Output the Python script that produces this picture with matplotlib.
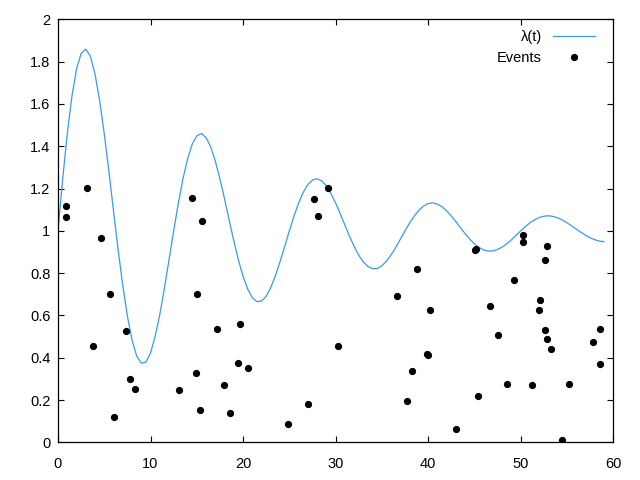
import matplotlib
matplotlib.use('Agg')
import matplotlib.pyplot as plt
import numpy as np

plt.rcParams['font.family'] = ['Liberation Sans', 'DejaVu Sans']

# intensity curve, every 0.5 from t=0 to t=59
lam_y = [1.000, 1.243, 1.458, 1.635, 1.764, 1.839, 1.859, 1.825, 1.741, 1.615,
         1.458, 1.280, 1.093, 0.909, 0.741, 0.596, 0.484, 0.408, 0.374, 0.379,
         0.423, 0.501, 0.605, 0.729, 0.864,
         1.000, 1.130, 1.245, 1.340, 1.409, 1.449, 1.460, 1.441, 1.397, 1.329,
         1.245, 1.150, 1.050, 0.952, 0.861, 0.784, 0.724, 0.683, 0.665, 0.668,
         0.691, 0.733, 0.789, 0.855, 0.927,
         1.000, 1.070, 1.131, 1.182, 1.219, 1.240, 1.246, 1.236, 1.212, 1.176,
         1.131, 1.080, 1.027, 0.974, 0.926, 0.884, 0.852, 0.831, 0.821, 0.822,
         0.835, 0.857, 0.887, 0.922, 0.961,
         1.000, 1.037, 1.070, 1.097, 1.117, 1.129, 1.132, 1.126, 1.114, 1.094,
         1.070, 1.043, 1.014, 0.986, 0.960, 0.938, 0.921, 0.909, 0.904, 0.905,
         0.912, 0.923, 0.939, 0.958, 0.979,
         1.000, 1.020, 1.038, 1.052, 1.063, 1.069, 1.071, 1.068, 1.061, 1.051,
         1.038, 1.023, 1.008, 0.993, 0.979, 0.967, 0.958, 0.951, 0.949]
lam_t = np.linspace(0, 59, len(lam_y))

# events (time, height)
ev_t = [0.90, 0.90, 3.17, 4.68, 3.81, 5.65, 6.08, 7.38, 7.81, 8.35,
        13.11, 14.51, 15.59, 15.05, 14.94, 15.38, 17.21, 17.97, 18.62, 19.70,
        19.48, 20.56, 24.88, 27.04, 27.69, 28.13, 29.21, 30.29, 36.66, 38.82,
        40.23, 39.90, 40.01, 38.28, 37.74, 43.04, 45.09, 45.16, 45.38, 46.71,
        47.57, 48.55, 49.30, 50.28, 50.28, 51.25, 52.11, 52.00, 52.87, 52.65,
        52.65, 52.87, 53.30, 54.49, 55.25, 57.84, 58.60, 58.60]
ev_y = [1.116, 1.064, 1.201, 0.965, 0.454, 0.700, 0.118, 0.525, 0.298, 0.251,
        0.246, 1.154, 1.045, 0.700, 0.326, 0.151, 0.534, 0.270, 0.137, 0.558,
        0.374, 0.350, 0.085, 0.180, 1.149, 1.069, 1.201, 0.454, 0.690, 0.818,
        0.624, 0.416, 0.411, 0.336, 0.194, 0.061, 0.908, 0.915, 0.217, 0.643,
        0.506, 0.274, 0.766, 0.979, 0.946, 0.270, 0.671, 0.624, 0.927, 0.861,
        0.530, 0.487, 0.440, 0.009, 0.274, 0.473, 0.534, 0.369]

x_ticks = [0, 10, 20, 30, 40, 50, 60]
y_ticks = [0, 0.2, 0.4, 0.6, 0.8, 1, 1.2, 1.4, 1.6, 1.8, 2]
y_labels = ['0', '0.2', '0.4', '0.6', '0.8', '1', '1.2', '1.4', '1.6', '1.8', '2']

fig = plt.figure(figsize=(6.4, 4.8), dpi=100)
ax = fig.add_axes([58 / 640, 37.7 / 480, 555.3 / 640, 423 / 480])

ax.plot(lam_t, lam_y, color='#3a98f5', lw=0.9, label='λ(t)')
ax.plot(ev_t, ev_y, 'o', color='black', ms=4.2, ls='none', label='Events')

ax.set_xlim(0, 60)
ax.set_ylim(0, 2)
ax.set_xticks(x_ticks)
ax.set_yticks(y_ticks)
ax.set_yticklabels(y_labels)
ax.tick_params(direction='in', length=4, width=0.8, top=True, right=True,
               labelsize=10.5)
ax.tick_params(axis='x', pad=10.5)
ax.tick_params(axis='y', pad=5.5)
for s in ax.spines.values():
    s.set_linewidth(0.9)

ax.legend(loc='upper right', bbox_to_anchor=(0.967, 0.975), frameon=False,
          markerfirst=False, borderpad=0, borderaxespad=0, handlelength=2.9,
          handletextpad=0.75, labelspacing=0.5, numpoints=1, fontsize=10.5)

fig.savefig('out.png', dpi=100)
